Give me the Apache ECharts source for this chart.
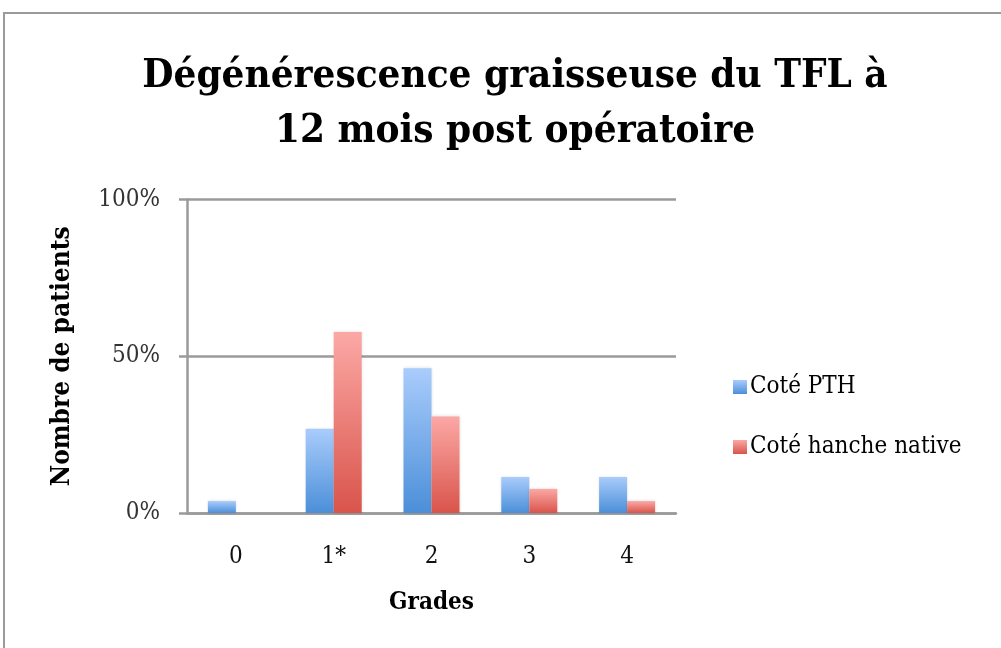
<!DOCTYPE html>
<html>
<head>
<meta charset="utf-8">
<script src="https://cdn.jsdelivr.net/npm/echarts@6/dist/echarts.min.js"></script>
<style>
html,body{margin:0;padding:0;background:#fff;}
#chart{width:1001px;height:648px;}
</style>
</head>
<body>
<div id="chart"></div>
<script>
const categories = ['0', '1*', '2', '3', '4'];
const cotePTH = [3.8, 26.9, 46.2, 11.5, 11.5];
const coteHancheNative = [0, 57.7, 30.8, 7.7, 3.8];
const seriesNames = ['Coté PTH', 'Coté hanche native'];
const titleText = 'Dégénérescence graisseuse du TFL à\n12 mois post opératoire';

const serif = '"DejaVu Serif Condensed", "DejaVu Serif", serif';
const chart = echarts.init(document.getElementById('chart'), null, {renderer: 'canvas'});

function grad(top, bottom) {
  return new echarts.graphic.LinearGradient(0, 0, 0, 1, [
    {offset: 0, color: top}, {offset: 1, color: bottom}
  ]);
}

chart.setOption({
  backgroundColor: '#fff',
  animation: false,
  graphic: [{
    type: 'rect',
    shape: {x: 4, y: 13, width: 1010, height: 660},
    style: {fill: 'none', stroke: '#9a9a9a', lineWidth: 2},
    silent: true
  }],
  title: {
    text: titleText,
    left: 510,
    textAlign: 'center',
    top: 44,
    itemGap: 0,
    textStyle: {
      fontFamily: serif,
      fontWeight: 'bold',
      fontSize: 40,
      lineHeight: 55,
      color: '#000'
    }
  },
  legend: {
    orient: 'vertical',
    left: 728,
    top: 370,
    itemWidth: 14,
    itemHeight: 14,
    itemGap: 36,
    icon: 'rect',
    textStyle: {fontFamily: serif, fontSize: 24, color: '#000', padding: [0, 0, 0, -2]},
    data: seriesNames
  },
  grid: {left: 187, right: 325, top: 199.5, bottom: 135, containLabel: false},
  xAxis: {
    type: 'category',
    data: categories,
    name: 'Grades',
    nameLocation: 'middle',
    nameGap: 78,
    nameTextStyle: {fontFamily: serif, fontWeight: 'bold', fontSize: 24, color: '#000'},
    axisLine: {lineStyle: {color: '#9a9a9a', width: 2.5}},
    axisTick: {show: false},
    axisLabel: {fontFamily: serif, fontSize: 24, color: '#111', margin: 32}
  },
  yAxis: {
    type: 'value',
    min: 0,
    max: 100,
    interval: 50,
    name: 'Nombre de patients',
    nameLocation: 'middle',
    nameGap: 112,
    nameTextStyle: {fontFamily: serif, fontWeight: 'bold', fontSize: 26, color: '#000'},
    axisLine: {show: true, lineStyle: {color: '#9a9a9a', width: 2.5}},
    axisTick: {show: true, length: 8, lineStyle: {color: '#9a9a9a', width: 2.5}},
    splitLine: {show: true, lineStyle: {color: '#9a9a9a', width: 2.5}},
    axisLabel: {fontFamily: serif, fontSize: 24, color: '#333', margin: 27, formatter: '{value}%'}
  },
  series: [
    {
      name: seriesNames[0],
      type: 'bar',
      data: cotePTH,
      barWidth: 28,
      barGap: '0%',
      itemStyle: {color: grad('#a9ccfc', '#4b8fd8'), shadowColor: 'rgba(0,0,0,0.15)', shadowBlur: 3}
    },
    {
      name: seriesNames[1],
      type: 'bar',
      data: coteHancheNative,
      barWidth: 28,
      barGap: '0%',
      itemStyle: {color: grad('#fca8a5', '#d9544b'), shadowColor: 'rgba(0,0,0,0.15)', shadowBlur: 3}
    }
  ]
});
</script>
</body>
</html>
